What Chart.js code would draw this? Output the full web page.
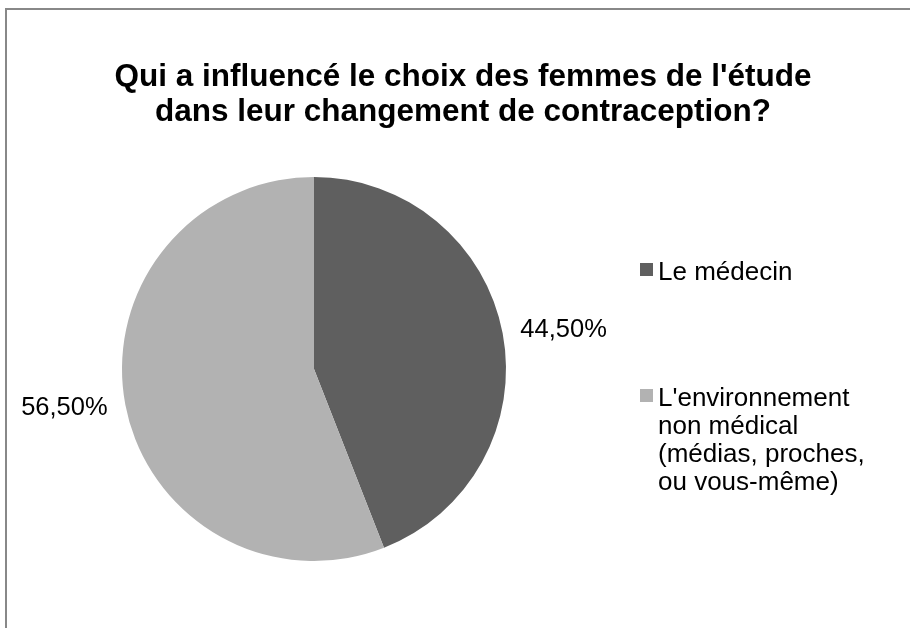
<!DOCTYPE html>
<html lang="fr">
<head>
    <meta charset="UTF-8">
    <title>Qui a influencé le choix des femmes</title>
    <style>
        body {
            margin: 0;
            background: #ffffff;
            overflow: hidden;
            width: 910px;
            height: 628px;
            position: relative;
        }
        .frame {
            position: absolute;
            left: 5px;
            top: 8px;
            width: 1000px;
            height: 1000px;
            border: 2px solid #888888;
            background: #ffffff;
        }
        canvas {
            position: absolute;
            left: 0;
            top: 0;
        }
    </style>
</head>
<body>
    <div class="frame"></div>
    <canvas id="pieChart" width="910" height="628"></canvas>

    <script src="https://cdn.jsdelivr.net/npm/chart.js"></script>
    <script>
        // Données
        const titleLines = ["Qui a influencé le choix des femmes de l'étude", "dans leur changement de contraception?"];
        const categories = [
            ["Le médecin"],
            ["L'environnement", "non médical", "(médias, proches,", "ou vous-même)"]
        ];
        const values = [44.5, 56.5];
        const valueLabels = ["44,50%", "56,50%"];
        const sliceColors = ["#5f5f5f", "#b2b2b2"];

        const FONT = "'Liberation Sans', Arial, sans-serif";

        // Titre, étiquettes de données et légende dessinés sur le canvas
        const excelLook = {
            id: 'excelLook',
            afterDraw(chart) {
                const ctx = chart.ctx;
                ctx.save();
                ctx.fillStyle = '#000000';

                // titre
                ctx.font = 'bold 31.5px ' + FONT;
                ctx.textAlign = 'center';
                ctx.textBaseline = 'alphabetic';
                ctx.fillText(titleLines[0], 463, 86);
                ctx.fillText(titleLines[1], 463, 121);

                // étiquettes à l'extérieur des secteurs
                const meta = chart.getDatasetMeta(0);
                ctx.font = '25.5px ' + FONT;
                ctx.textBaseline = 'middle';
                meta.data.forEach((arc, i) => {
                    const mid = (arc.startAngle + arc.endAngle) / 2;
                    const r = arc.outerRadius + 18;
                    const x = arc.x + Math.cos(mid) * r;
                    const y = arc.y + Math.sin(mid) * r;
                    ctx.textAlign = Math.cos(mid) >= 0 ? 'left' : 'right';
                    ctx.fillText(valueLabels[i], x, y);
                });

                // légende
                const legendTop = [263, 389];
                ctx.font = '26px ' + FONT;
                ctx.textAlign = 'left';
                ctx.textBaseline = 'alphabetic';
                categories.forEach((lines, i) => {
                    ctx.fillStyle = sliceColors[i];
                    ctx.fillRect(640, legendTop[i], 13, 13);
                    ctx.fillStyle = '#000000';
                    lines.forEach((line, j) => {
                        ctx.fillText(line, 658, legendTop[i] + 17 + j * 28);
                    });
                });
                ctx.restore();
            }
        };

        new Chart(document.getElementById('pieChart'), {
            type: 'pie',
            data: {
                labels: categories,
                datasets: [{
                    data: values,
                    backgroundColor: sliceColors,
                    borderWidth: 0,
                    hoverOffset: 0
                }]
            },
            options: {
                responsive: false,
                animation: false,
                devicePixelRatio: 1,
                layout: {
                    padding: { left: 122, right: 404, top: 177, bottom: 67 }
                },
                plugins: {
                    legend: { display: false },
                    title: { display: false },
                    tooltip: { enabled: false }
                }
            },
            plugins: [excelLook]
        });
    </script>
</body>
</html>
